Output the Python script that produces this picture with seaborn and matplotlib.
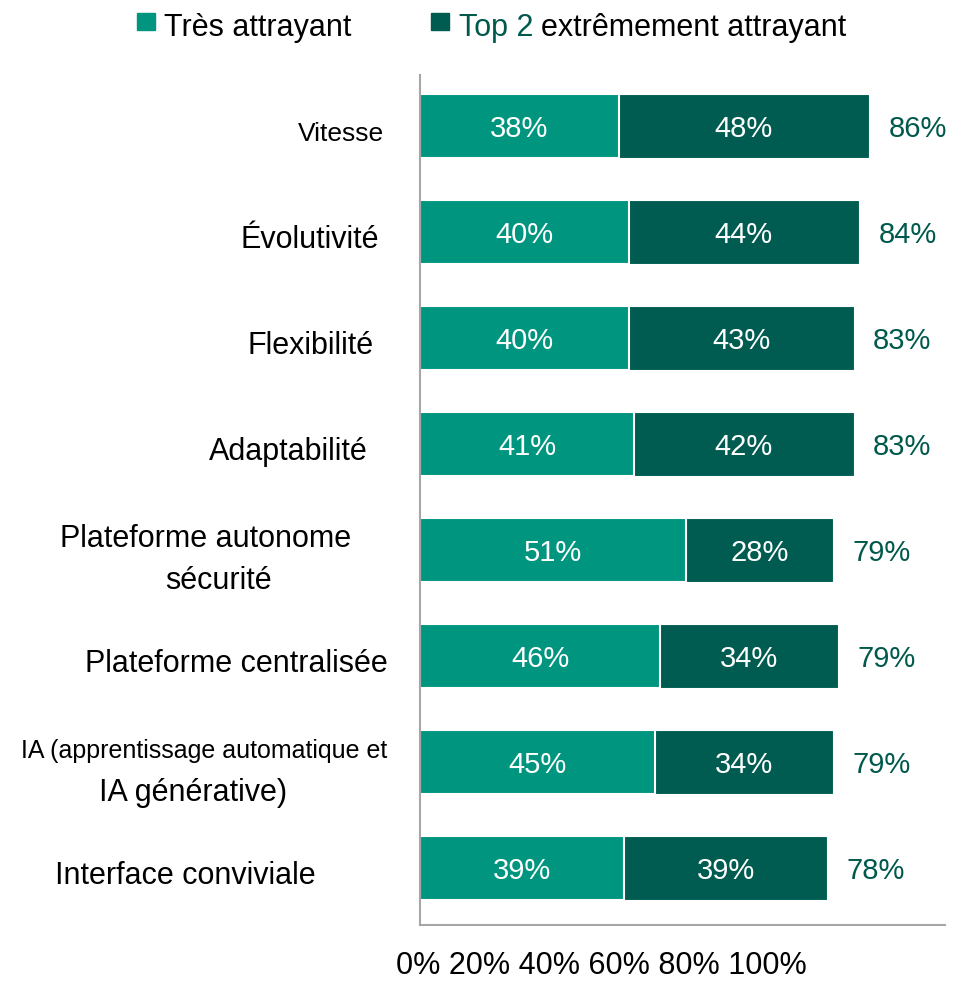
import numpy as np
import pandas as pd
import matplotlib
matplotlib.use('Agg')
import matplotlib.pyplot as plt
import seaborn as sns
from matplotlib.transforms import blended_transform_factory
from matplotlib.patches import Rectangle

categories = ['Vitesse', 'Évolutivité', 'Flexibilité', 'Adaptabilité',
              'Plateforme autonome\nsécurité', 'Plateforme centralisée',
              'IA (apprentissage automatique et\nIA générative)', 'Interface conviviale']
tres = [38, 40, 40, 41, 51, 46, 45, 39]
extreme = [48, 44, 43, 42, 28, 34, 34, 39]
total = [86, 84, 83, 83, 79, 79, 79, 78]
tick_text = '0% 20% 40% 60% 80% 100%'
legend_labels = ['Très attrayant', 'Top 2', 'extrêmement attrayant']

# layout of the category labels (centre x in pixels, font size per line)
label_cx = [[341], [310], [311], [288], [206, 218], [236], [204, 193], [185]]
label_fs = [[19], [22], [22], [22], [22, 22], [22], [18, 22], [22]]

light = '#00957f'
dark = '#005c50'
green_txt = '#00594c'

sns.set_style('white')
plt.rcParams['font.family'] = ['Liberation Sans', 'DejaVu Sans']
plt.rcParams['text.color'] = 'black'

W, H = 954, 981
fig = plt.figure(figsize=(W / 100, H / 100), dpi=100)
ax = fig.add_axes([420 / W, 1 - 925 / H, 525 / W, 850 / H])

df = pd.DataFrame({'cat': categories, 'tres': tres, 'extreme': extreme})
df['stack'] = df['tres'] + df['extreme']

sns.barplot(data=df, y='cat', x='stack', color=dark, orient='h', width=0.6,
            edgecolor='white', linewidth=0.8, ax=ax, saturation=1)
sns.barplot(data=df, y='cat', x='tres', color=light, orient='h', width=0.6,
            edgecolor='white', linewidth=1.5, ax=ax, saturation=1)

ax.set_xlim(0, 100.5)
ax.set_ylim(7.54, -0.48)
ax.set_xlabel('')
ax.set_ylabel('')
ax.set_xticks([])
ax.set_yticks([])
for s in ['top', 'right']:
    ax.spines[s].set_visible(False)
for s in ['left', 'bottom']:
    ax.spines[s].set_color('#a6a6a6')
    ax.spines[s].set_linewidth(1.5)

for i, row in df.iterrows():
    y = i + 0.03
    ax.text(row['tres'] / 2, y, f"{row['tres']}%", color='white', fontsize=21,
            ha='center', va='center')
    ax.text(row['tres'] + row['extreme'] / 2, y, f"{row['extreme']}%", color='white',
            fontsize=21, ha='center', va='center')
    ax.annotate(f"{total[i]}%", xy=(row['stack'], y), xytext=(14, 0),
                textcoords='offset points', color=green_txt, fontsize=21,
                ha='left', va='center')

# category labels
tr = blended_transform_factory(fig.transFigure, ax.transData)
for i, cat in enumerate(categories):
    lines = cat.split('\n')
    offs = [0.075] if len(lines) == 1 else [-0.1, 0.29]
    for line, cx, fs, dy in zip(lines, label_cx[i], label_fs[i], offs):
        ax.text(cx / W, i + dy, line, transform=tr, fontsize=fs,
                ha='center', va='center')

# x "ticks"
fig.text(601 / W, 1 - 966 / H, tick_text, fontsize=22, ha='center', va='center')

# legend
fig.patches.append(Rectangle((137 / W, 1 - 30 / H), 18 / W, 17 / H,
                             transform=fig.transFigure, color=light))
fig.patches.append(Rectangle((431 / W, 1 - 30 / H), 18 / W, 17 / H,
                             transform=fig.transFigure, color=dark))
fig.text(164 / W, 1 - 28 / H, legend_labels[0], fontsize=22, va='center')
t2 = fig.text(459 / W, 1 - 28 / H, legend_labels[1], fontsize=22, va='center',
              color=green_txt)
fig.canvas.draw()
bb = t2.get_window_extent()
fig.text((bb.x1 + 8) / W, 1 - 28 / H, legend_labels[2], fontsize=22, va='center')

fig.savefig('out.png', dpi=100)
